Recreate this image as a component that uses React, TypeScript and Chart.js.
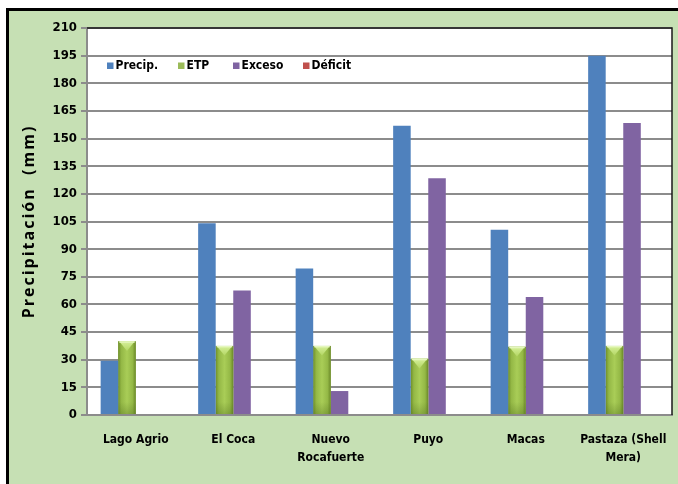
import { useEffect, useRef } from "react";
import { Chart, registerables } from "chart.js";

Chart.register(...registerables);

// Stations (multi-line labels split into lines)
const categories: string[][] = [
  ["Lago Agrio"],
  ["El Coca"],
  ["Nuevo", "Rocafuerte"],
  ["Puyo"],
  ["Macas"],
  ["Pastaza (Shell", "Mera)"],
];

const seriesNames = ["Precip.", "ETP", "Exceso", "Déficit"];

// Monthly values in mm
const precip = [29.5, 104, 79.5, 157, 100.5, 195];
const etp = [40, 37.5, 37.5, 30.5, 37, 37.5];
const exceso = [0, 67.5, 13, 128.5, 64, 158.5];
const deficit = [0, 0, 0, 0, 0, 0];

const yMin = 0;
const yMax = 210;
const yStep = 15;

const yTitle = "Precipitación  (mm)";

const colors = ["#4f81bd", "#9bbb59", "#8064a2", "#c0504d"];

const narrow = '"Liberation Sans Narrow", "Arial Narrow", "DejaVu Sans Condensed", sans-serif';

// Background panel, plot area fill, plot border and the rotated axis title
const framePlugin = {
  id: "frame",
  beforeDraw(chart: any) {
    const { ctx, width, height, chartArea } = chart;
    ctx.save();
    ctx.fillStyle = "#ffffff";
    ctx.fillRect(0, 0, width, height);
    ctx.fillStyle = "#c6e0b4";
    ctx.fillRect(6, 8, width - 6, height - 8);
    ctx.fillStyle = "#000000";
    ctx.fillRect(6, 8, width - 6, 3);
    ctx.fillRect(6, 8, 3, height - 8);
    ctx.fillStyle = "#ffffff";
    ctx.fillRect(chartArea.left, chartArea.top, chartArea.right - chartArea.left, chartArea.bottom - chartArea.top);
    ctx.restore();
  },
  afterDraw(chart: any) {
    const { ctx, chartArea } = chart;
    ctx.save();
    ctx.strokeStyle = "#1a1a1a";
    ctx.lineWidth = 1.5;
    ctx.beginPath();
    ctx.moveTo(chartArea.left, chartArea.top);
    ctx.lineTo(chartArea.right, chartArea.top);
    ctx.lineTo(chartArea.right, chartArea.bottom);
    ctx.stroke();

    // y-axis title, letter-spaced
    ctx.translate(29, (chartArea.top + chartArea.bottom) / 2);
    ctx.rotate(-Math.PI / 2);
    ctx.font = 'bold 16px "Open Sans", "Noto Sans", sans-serif';
    (ctx as any).letterSpacing = "2px";
    ctx.fillStyle = "#000";
    ctx.textAlign = "center";
    ctx.textBaseline = "middle";
    ctx.fillText(yTitle, 0, 0);
    ctx.restore();
  },
};

// Bevelled look for the ETP bars
const etpShade = {
  id: "etpShade",
  afterDatasetDraw(chart: any, args: any) {
    if (args.index !== 1) return;
    const { ctx } = chart;
    const meta = chart.getDatasetMeta(1);
    ctx.save();
    meta.data.forEach((el: any) => {
      const { x, y, base, width } = el.getProps(["x", "y", "base", "width"], true);
      const left = x - width / 2;
      const right = x + width / 2;
      const g = ctx.createLinearGradient(left, 0, right, 0);
      g.addColorStop(0, "#6f8f2a");
      g.addColorStop(0.18, "#94b846");
      g.addColorStop(0.5, "#a9cd57");
      g.addColorStop(0.82, "#94b846");
      g.addColorStop(1, "#6a8828");
      ctx.fillStyle = g;
      ctx.fillRect(left, y, width, base - y);
      const tg = ctx.createLinearGradient(0, y, 0, y + width * 0.6);
      tg.addColorStop(0, "#d6f09a");
      tg.addColorStop(1, "#b0d460");
      ctx.fillStyle = tg;
      ctx.beginPath();
      ctx.moveTo(left + 1, y);
      ctx.lineTo(right - 1, y);
      ctx.lineTo(x, y + width * 0.55);
      ctx.closePath();
      ctx.fill();
      ctx.fillStyle = "rgba(232,248,196,0.85)";
      ctx.fillRect(left + 1, y, width - 2, 1.5);
      const bg = ctx.createLinearGradient(0, base - 12, 0, base);
      bg.addColorStop(0, "rgba(80,110,30,0)");
      bg.addColorStop(1, "rgba(80,110,30,0.35)");
      ctx.fillStyle = bg;
      ctx.fillRect(left, base - 12, width, 12);
    });
    ctx.restore();
  },
};

// Legend drawn inside the plot area
const legendPlugin = {
  id: "insideLegend",
  afterDraw(chart: any) {
    const { ctx, chartArea } = chart;
    const offsets = [20, 91, 146, 216];
    const yc = chartArea.top + 38;
    ctx.save();
    ctx.font = `bold 12px ${narrow}`;
    ctx.textBaseline = "middle";
    ctx.textAlign = "left";
    seriesNames.forEach((name, i) => {
      const mx = chartArea.left + offsets[i];
      ctx.fillStyle = colors[i];
      ctx.fillRect(mx, yc - 3.5, 6.5, 6.5);
      ctx.fillStyle = "#000";
      ctx.fillText(name, mx + 8.5, yc);
    });
    ctx.restore();
  },
};

export default function App() {
  const ref = useRef<HTMLCanvasElement>(null);

  useEffect(() => {
    if (!ref.current) return;
    const chart = new Chart(ref.current, {
      type: "bar",
      data: {
        labels: categories,
        datasets: [
          { label: seriesNames[0], data: precip, backgroundColor: colors[0] },
          { label: seriesNames[1], data: etp, backgroundColor: colors[1] },
          { label: seriesNames[2], data: exceso, backgroundColor: colors[2] },
          { label: seriesNames[3], data: deficit, backgroundColor: colors[3] },
        ],
      },
      options: {
        responsive: false,
        animation: false,
        layout: { padding: { left: 0, top: 28, right: 6, bottom: 0 } },
        datasets: { bar: { categoryPercentage: 0.72, barPercentage: 1 } },
        plugins: { legend: { display: false }, tooltip: { enabled: false } },
        scales: {
          x: {
            grid: { display: false },
            border: { color: "#8c8c8c", width: 2 },
            ticks: {
              color: "#000",
              font: { family: narrow, size: 12, weight: "bold", lineHeight: 1.5 },
              padding: 8,
              maxRotation: 0,
              autoSkip: false,
            },
            afterFit: (s: any) => {
              s.height = 69;
            },
          },
          y: {
            min: yMin,
            max: yMax,
            ticks: {
              stepSize: yStep,
              color: "#000",
              font: { family: narrow, size: 13, weight: "bold" },
              padding: 4,
            },
            grid: { color: "#8c8c8c", lineWidth: 2, tickLength: 6 },
            border: { color: "#8c8c8c", width: 2 },
            afterFit: (s: any) => {
              s.width = 87;
            },
          },
        },
      },
      plugins: [framePlugin, etpShade, legendPlugin],
    });
    return () => chart.destroy();
  }, []);

  return (
    <div style={{ position: "fixed", left: 0, top: 0, width: 678, height: 484 }}>
      <canvas ref={ref} width={678} height={484} style={{ display: "block" }} />
    </div>
  );
}
